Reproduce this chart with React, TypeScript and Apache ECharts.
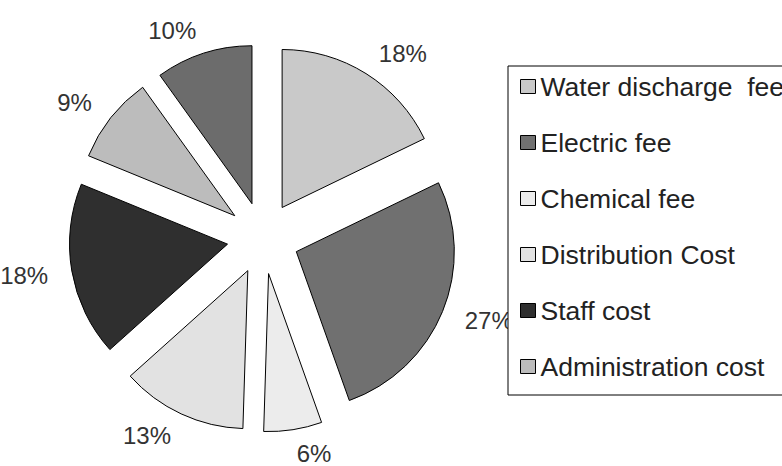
import React, { useEffect, useRef } from "react";
import * as echarts from "echarts";

const categories = [
  "Water discharge  fee",
  "Electric fee",
  "Chemical fee",
  "Distribution Cost",
  "Staff cost",
  "Administration cost",
  "Other cost",
];
const values = [18, 27, 6, 13, 18, 9, 10];
const legendNames = categories.slice(0, 6);
const colors = ["#c9c9c9", "#707070", "#ececec", "#e2e2e2", "#2f2f2f", "#bcbcbc", "#6c6c6c"];

export default function App() {
  const ref = useRef<HTMLDivElement>(null);
  useEffect(() => {
    if (!ref.current) return;
    const chart = echarts.init(ref.current, null, { renderer: "svg" });
    chart.setOption({
      animation: false,
      backgroundColor: "#ffffff",
      color: colors,
      legend: {
        data: legendNames,
        orient: "vertical",
        left: 508,
        top: 66,
        padding: [7, 40, 15, 12],
        borderColor: "#000",
        borderWidth: 1,
        backgroundColor: "#fff",
        itemWidth: 15,
        itemHeight: 14,
        itemGap: 29,
        icon: "rect",
        selectedMode: false,
        itemStyle: { borderColor: "#000", borderWidth: 1 },
        textStyle: {
          fontFamily: "Liberation Sans, Arial, sans-serif",
          fontSize: 26.5,
          lineHeight: 27,
          color: "#222",
        },
      },
      series: [
        {
          type: "pie",
          center: [263, 238],
          radius: 158,
          startAngle: 90,
          clockwise: true,
          selectedMode: "multiple",
          selectedOffset: 36,
          avoidLabelOverlap: false,
          emphasis: { disabled: true },
          itemStyle: { borderColor: "#000", borderWidth: 1 },
          label: {
            show: true,
            position: "outside",
            formatter: "{c}%",
            fontFamily: "Liberation Sans, Arial, sans-serif",
            fontSize: 24,
            color: "#333",
            distanceToLabelLine: 0,
          },
          labelLine: { show: false, length: 24, length2: 0 },
          data: categories.map((name, i) => ({
            name,
            value: values[i],
            selected: true,
          })),
        },
      ],
    });
    return () => chart.dispose();
  }, []);
  return (
    <div
      ref={ref}
      style={{ position: "fixed", left: 0, top: 0, width: 782, height: 466 }}
    />
  );
}
